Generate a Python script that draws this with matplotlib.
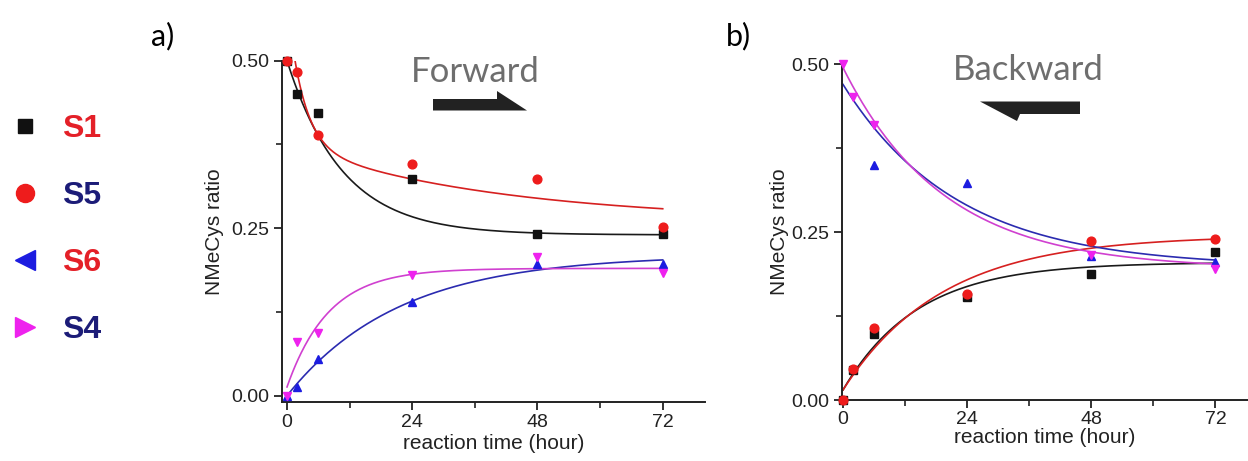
import numpy as np
import matplotlib.pyplot as plt
from matplotlib.patches import Polygon
from matplotlib.lines import Line2D

plt.rcParams['font.family'] = ['Liberation Sans', 'DejaVu Sans']

W, H = 1248, 461  # output size in px

# sampling times (hour)
hours = [0, 2, 6, 24, 48, 72]
series = ['S1', 'S5', 'S6', 'S4']

# a) forward
fwd_s1 = [0.50, 0.450, 0.422, 0.323, 0.242, 0.241]
fwd_s5 = [0.50, 0.483, 0.389, 0.346, 0.323, 0.252]
fwd_s6 = [0.0, 0.0125, 0.055, 0.140, 0.197, 0.197]
fwd_s4 = [0.0, 0.080, 0.094, 0.180, 0.207, 0.183]

# b) backward (nan = hidden / not visible)
bwd_s1 = [0.0, 0.045, 0.0985, 0.153, 0.188, 0.221]
bwd_s5 = [0.0, 0.046, 0.107, 0.158, 0.237, 0.240]
bwd_s6 = [np.nan, np.nan, 0.350, 0.323, 0.214, 0.205]
bwd_s4 = [0.50, 0.451, 0.410, np.nan, 0.216, 0.195]

# fitted curves: y = c + a1*exp(-t/t1) + a2*exp(-t/t2)
#              c      a1      t1    a2     t2
fwd_fit_s1 = [0.240, 0.260, 10.6, 0.0, 1.0]
fwd_fit_s5 = [0.260, 0.214, 3.05, 0.115, 40.0]
fwd_fit_s6 = [0.210, -0.210, 21.5, 0.0, 1.0]
fwd_fit_s4 = [0.190, -0.177, 8.0, 0.0, 1.0]

bwd_fit_s1 = [0.205, -0.190, 14.4, 0.0, 1.0]
bwd_fit_s5 = [0.245, -0.230, 19.2, 0.0, 1.0]
bwd_fit_s6 = [0.198, 0.272, 22.1, 0.0, 1.0]
bwd_fit_s4 = [0.195, 0.300, 19.5, 0.0, 1.0]

marker_colors = {'S1': '#111111', 'S5': '#ee1c1c', 'S6': '#1c1ce0', 'S4': '#ee22ee'}
line_colors = {'S1': '#1a1a1a', 'S5': '#d62020', 'S6': '#2b2bb0', 'S4': '#d040d0'}
plot_markers = {'S1': 's', 'S5': 'o', 'S6': '^', 'S4': 'v'}
legend_markers = {'S1': 's', 'S5': 'o', 'S6': '<', 'S4': '>'}
legend_text_colors = {'S1': '#e42028', 'S5': '#1c1c78', 'S6': '#e42028', 'S4': '#1c1c78'}


def fx(x):
    return x / W


def fy(y):
    return 1 - y / H


def draw_panel(ax, points, fits):
    t = np.linspace(0, 72, 400)
    for name in series:
        c, a1, t1, a2, t2 = fits[name]
        ax.plot(t, c + a1 * np.exp(-t / t1) + a2 * np.exp(-t / t2),
                color=line_colors[name], lw=1.2, zorder=2)
    for name in series:
        ms = 5.5 if name == 'S1' else 6.3
        ax.plot(hours, points[name], ls='none', marker=plot_markers[name], ms=ms,
                color=marker_colors[name], clip_on=False, zorder=3)
    for s in ['top', 'right']:
        ax.spines[s].set_visible(False)
    for s in ['left', 'bottom']:
        ax.spines[s].set_linewidth(1.4)
        ax.spines[s].set_color('#222222')
    ax.set_xticks([0, 24, 48, 72])
    ax.set_xticks([12, 36, 60], minor=True)
    ax.set_yticks([0.0, 0.25, 0.5])
    ax.set_yticks([0.125, 0.375], minor=True)
    ax.set_yticklabels(['0.00', '0.25', '0.50'])
    ax.tick_params(which='major', direction='out', length=6, width=1.3,
                   labelsize=14, colors='#222222', pad=3)
    ax.tick_params(which='minor', direction='out', length=4, width=1.2, colors='#222222')
    ax.set_facecolor('none')


fig = plt.figure(figsize=(W / 100, H / 100), dpi=100)

# panel a
ax1 = fig.add_axes([fx(282), fy(401.7), (705 - 282) / W, (401.7 - 60.7) / H])
draw_panel(ax1,
           {'S1': fwd_s1, 'S5': fwd_s5, 'S6': fwd_s6, 'S4': fwd_s4},
           {'S1': fwd_fit_s1, 'S5': fwd_fit_s5, 'S6': fwd_fit_s6, 'S4': fwd_fit_s4})
ax1.set_xlim(-0.96, 80.1)
ax1.set_ylim(-0.009, 0.5)
ax1.set_xlabel('reaction time (hour)', fontsize=15, color='#222222')
ax1.xaxis.set_label_coords(0.5, -0.095)
ax1.set_ylabel('NMeCys ratio', fontsize=15, color='#222222')
ax1.yaxis.set_label_coords(-0.138, 0.5)

# panel b
ax2 = fig.add_axes([fx(841.7), fy(400), (W - 841.7) / W, (400 - 64.3) / H])
draw_panel(ax2,
           {'S1': bwd_s1, 'S5': bwd_s5, 'S6': bwd_s6, 'S4': bwd_s4},
           {'S1': bwd_fit_s1, 'S5': bwd_fit_s5, 'S6': bwd_fit_s6, 'S4': bwd_fit_s4})
ax2.set_xlim(-0.25, 78.3)
ax2.set_ylim(0, 0.5)
ax2.tick_params(axis='x', which='major', pad=2)
ax2.set_xlabel('reaction time (hour)', fontsize=15, color='#222222')
ax2.xaxis.set_label_coords(0.5, -0.083)
ax2.set_ylabel('NMeCys ratio', fontsize=15, color='#222222')
ax2.yaxis.set_label_coords(-0.13, 0.5)

# panel letters and direction labels
fig.text(fx(151), fy(45), 'a)', fontsize=22, family=['Lato', 'DejaVu Sans'], va='baseline')
fig.text(fx(726), fy(45), 'b)', fontsize=22, family=['Lato', 'DejaVu Sans'], va='baseline')
fig.text(fx(475), fy(82), 'Forward', fontsize=25, color='#6e6e6e',
         family=['Lato', 'DejaVu Sans'], ha='center', va='baseline')
fig.text(fx(1028), fy(80), 'Backward', fontsize=25, color='#6e6e6e',
         family=['Lato', 'DejaVu Sans'], ha='center', va='baseline')

fwd_arrow = [(433, 110.5), (433, 99), (497, 99), (497, 91), (527, 110.5)]
bwd_arrow = [(980, 101.5), (1080, 101.5), (1080, 114), (1020, 114), (1017, 121)]
for pts in [fwd_arrow, bwd_arrow]:
    fig.add_artist(Polygon([(fx(x), fy(y)) for x, y in pts], closed=True,
                           transform=fig.transFigure, color='#222222', lw=0))

# legend on the left
legend_y = {'S1': 126, 'S5': 193, 'S6': 260, 'S4': 327}
legend_ms = {'S1': 10, 'S5': 13, 'S6': 14, 'S4': 14}
for name in series:
    y = legend_y[name]
    fig.add_artist(Line2D([fx(25)], [fy(y)], transform=fig.transFigure, ls='none',
                          marker=legend_markers[name], ms=legend_ms[name],
                          color=marker_colors[name]))
    fig.text(fx(62), fy(y + 3), name, fontsize=23, fontweight='bold',
             color=legend_text_colors[name], va='center')

fig.savefig('out.png', dpi=100)
